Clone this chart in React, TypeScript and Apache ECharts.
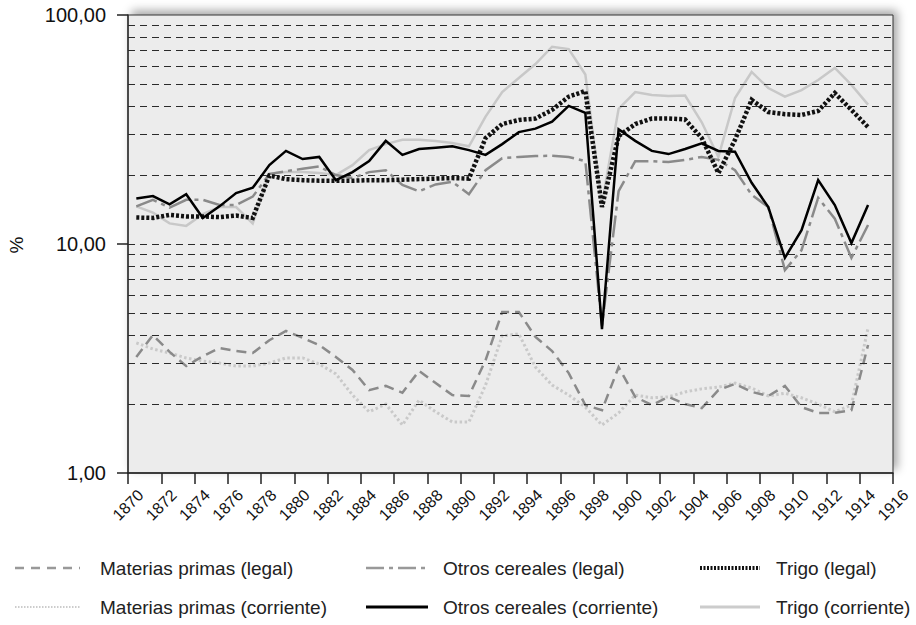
import React, { useEffect, useRef } from "react";
import * as echarts from "echarts";

const years = [
  1870, 1871, 1872, 1873, 1874, 1875, 1876, 1877, 1878, 1879, 1880, 1881, 1882, 1883, 1884,
  1885, 1886, 1887, 1888, 1889, 1890, 1891, 1892, 1893, 1894, 1895, 1896, 1897, 1898, 1899,
  1900, 1901, 1902, 1903, 1904, 1905, 1906, 1907, 1908, 1909, 1910, 1911, 1912, 1913, 1914,
];

const materiasLegal = [
  3.21, 4.0, 3.38, 2.93, 3.24, 3.51, 3.41, 3.34, 3.8, 4.17, 3.89, 3.62, 3.21, 2.82, 2.3,
  2.4, 2.24, 2.79, 2.47, 2.19, 2.17, 3.11, 5.05, 5.05, 3.93, 3.41, 2.73, 1.98, 1.88, 2.9,
  2.15, 1.98, 2.15, 2.0, 1.92, 2.3, 2.45, 2.26, 2.17, 2.4, 1.94, 1.83, 1.83, 1.88, 3.62,
];
const materiasCorriente = [
  3.7, 3.48, 3.34, 3.18, 3.08, 3.02, 2.93, 2.93, 3.02, 3.18, 3.18, 2.99, 2.71, 2.19, 1.85,
  2.0, 1.62, 2.08, 1.85, 1.67, 1.67, 2.42, 3.97, 4.05, 2.9, 2.42, 2.19, 1.94, 1.62, 1.83,
  2.19, 2.13, 2.15, 2.26, 2.33, 2.37, 2.47, 2.35, 2.17, 2.23, 2.13, 2.0, 1.85, 1.98, 4.3,
];
const otrosLegal = [
  14.6, 15.6, 14.4, 15.6, 15.6, 14.8, 14.8, 16.1, 20.2, 20.8, 21.3, 21.8, 20.0, 19.4, 20.6,
  21.0, 18.1, 17.0, 18.2, 18.7, 16.5, 21.0, 23.7, 24.0, 24.2, 24.3, 24.0, 23.0, 4.4, 17.0,
  23.0, 23.0, 22.8, 23.3, 24.0, 23.3, 21.0, 16.4, 14.5, 7.7, 9.4, 15.9, 12.9, 8.7, 12.1,
];
const otrosCorriente = [
  15.8, 16.2, 14.9, 16.5, 13.0, 14.6, 16.7, 17.6, 22.1, 25.5, 23.5, 24.0, 19.0, 20.6, 23.0,
  28.2, 24.5, 26.0, 26.3, 26.7, 25.7, 24.5, 27.3, 30.8, 31.9, 34.2, 40.1, 37.4, 4.25, 31.7,
  28.2, 25.5, 24.7, 26.0, 27.5, 25.5, 25.3, 18.5, 14.5, 8.7, 11.5, 19.0, 14.8, 10.1, 14.8,
];
const trigoLegal = [
  13.05, 13.0, 13.4, 13.2, 13.2, 13.1, 13.3, 13.0, 19.9, 19.2, 19.0, 18.9, 18.9, 18.9, 19.0,
  19.0, 19.1, 19.2, 19.3, 19.4, 19.3, 29.0, 33.4, 34.8, 35.3, 38.5, 44.0, 46.6, 14.5, 29.6,
  33.4, 35.3, 35.3, 35.0, 29.0, 20.4, 28.5, 42.6, 37.7, 36.9, 36.6, 38.1, 45.6, 38.5, 32.4,
];
const trigoCorriente = [
  14.6, 13.7, 12.3, 12.0, 13.5, 14.5, 14.5, 12.3, 20.3, 20.6, 20.6, 20.4, 20.0, 22.1, 25.7,
  27.3, 28.5, 28.5, 28.2, 27.6, 26.7, 36.0, 46.1, 53.1, 61.1, 72.7, 71.0, 55.0, 15.0, 38.9,
  46.1, 44.7, 44.3, 44.5, 34.0, 24.0, 43.4, 56.4, 48.0, 44.0, 47.0, 52.0, 58.7, 49.5, 40.6,
];

const gridValues = [2, 3, 4, 5, 6, 7, 8, 9, 10, 20, 30, 40, 50, 60, 70, 80, 90];
const xMin = 1870;
const xMax = 1916;
const xStep = 2;
const yMin = 1;
const yMax = 100;
const yAxisName = "%";

const FONT = '"Liberation Sans", Arial, Helvetica, sans-serif';

type Def = {
  name: string;
  values: number[];
  color: string;
  width: number;
  dash: number[] | "solid";
  legendDash: number[] | "solid";
  legendWidth: number;
  legendColor: string;
  z: number;
};

const defs: Def[] = [
  { name: "Materias primas (legal)", values: materiasLegal, color: "#8a8a8a", width: 2.5, dash: [10, 6], legendDash: [9, 7], legendWidth: 2.5, legendColor: "#999999", z: 4 },
  { name: "Otros cereales (legal)", values: otrosLegal, color: "#8a8a8a", width: 2.5, dash: [22, 5, 4, 5], legendDash: [18, 5, 4, 5], legendWidth: 2.5, legendColor: "#999999", z: 5 },
  { name: "Trigo (legal)", values: trigoLegal, color: "#111111", width: 4.5, dash: [3, 2], legendDash: [2, 1.5], legendWidth: 4, legendColor: "#111111", z: 6 },
  { name: "Materias primas (corriente)", values: materiasCorriente, color: "#c9c9c9", width: 3, dash: [2.5, 2.5], legendDash: [1.5, 1.5], legendWidth: 2, legendColor: "#cccccc", z: 3 },
  { name: "Otros cereales (corriente)", values: otrosCorriente, color: "#000000", width: 2.5, dash: "solid", legendDash: "solid", legendWidth: 3, legendColor: "#000000", z: 7 },
  { name: "Trigo (corriente)", values: trigoCorriente, color: "#c8c8c8", width: 2.5, dash: "solid", legendDash: "solid", legendWidth: 3, legendColor: "#cccccc", z: 2 },
];

const legendCols = [
  { sx: 15, ex: 80, tx: 100 },
  { sx: 366, ex: 428, tx: 443 },
  { sx: 700, ex: 760, tx: 776 },
];
const legendRows = [568, 607];

export default function App() {
  const ref = useRef<HTMLDivElement>(null);

  useEffect(() => {
    if (!ref.current) return;
    const chart = echarts.init(ref.current, null, { renderer: "svg" });

    const series: any[] = [
      {
        type: "line",
        name: "grid",
        data: [],
        z: 1,
        silent: true,
        markLine: {
          silent: true,
          symbol: ["none", "none"],
          label: { show: false },
          lineStyle: { type: [7, 5], color: "#2a2a2a", width: 1 },
          data: gridValues.map((v) => ({ yAxis: v })),
        },
      },
      ...defs.map((d) => ({
        type: "line",
        name: d.name,
        data: years.map((y, i) => [y + 0.5, d.values[i]]),
        showSymbol: false,
        symbol: "none",
        z: d.z,
        lineStyle: { color: d.color, width: d.width, type: d.dash, cap: "butt", join: "miter" },
      })),
    ];

    const graphic: any[] = [
      {
        type: "rect",
        z: -10,
        silent: true,
        shape: { x: 128, y: 15, width: 765, height: 458 },
        style: {
          fill: "#ececec",
          stroke: "#333333",
          lineWidth: 1,
          shadowBlur: 10,
          shadowColor: "rgba(0,0,0,0.35)",
          shadowOffsetX: 4,
          shadowOffsetY: -4,
        },
      },
      {
        type: "text",
        x: 16,
        y: 245,
        rotation: Math.PI / 2,
        style: {
          text: yAxisName,
          fontSize: 19,
          fontFamily: FONT,
          fill: "#111",
          align: "center",
          verticalAlign: "middle",
        },
      },
    ];

    const legendOrder = [0, 1, 2, 3, 4, 5];
    legendOrder.forEach((idx, k) => {
      const d = defs[idx];
      const col = legendCols[k % 3];
      const y = legendRows[Math.floor(k / 3)];
      graphic.push({
        type: "line",
        shape: { x1: col.sx, y1: y, x2: col.ex, y2: y },
        style: {
          stroke: d.legendColor,
          lineWidth: d.legendWidth,
          lineDash: d.legendDash === "solid" ? null : d.legendDash,
        },
      });
      graphic.push({
        type: "text",
        x: col.tx,
        y: y,
        style: {
          text: d.name,
          fontSize: 19,
          fontFamily: FONT,
          fill: "#222",
          align: "left",
          verticalAlign: "middle",
        },
      });
    });

    chart.setOption({
      animation: false,
      textStyle: { fontFamily: FONT },
      grid: { left: 128, right: 23, top: 15, bottom: 152, show: false },
      xAxis: {
        type: "value",
        min: xMin,
        max: xMax,
        interval: xStep,
        axisLine: { show: true, onZero: false, lineStyle: { color: "#222", width: 1.5 } },
        axisTick: { show: true, length: 11, lineStyle: { color: "#222", width: 1.5 } },
        axisLabel: {
          rotate: 45,
          fontSize: 16,
          color: "#111",
          margin: 32,
          align: "center",
          verticalAlign: "middle",
          formatter: (v: number) => String(v),
        },
        splitLine: { show: false },
      },
      yAxis: {
        type: "log",
        logBase: 10,
        min: yMin,
        max: yMax,
        axisLine: { show: true, lineStyle: { color: "#333", width: 1.5 } },
        axisTick: { show: true, length: 11, lineStyle: { color: "#222", width: 1.5 } },
        axisLabel: {
          fontSize: 20,
          color: "#111",
          margin: 22,
          formatter: (v: number) => Number(v).toFixed(2).replace(".", ","),
        },
        splitLine: { show: false },
      },
      series,
      graphic,
    });

    return () => chart.dispose();
  }, []);

  return (
    <div
      ref={ref}
      style={{ position: "fixed", left: 0, top: 0, width: 916, height: 625, background: "#fff" }}
    />
  );
}
